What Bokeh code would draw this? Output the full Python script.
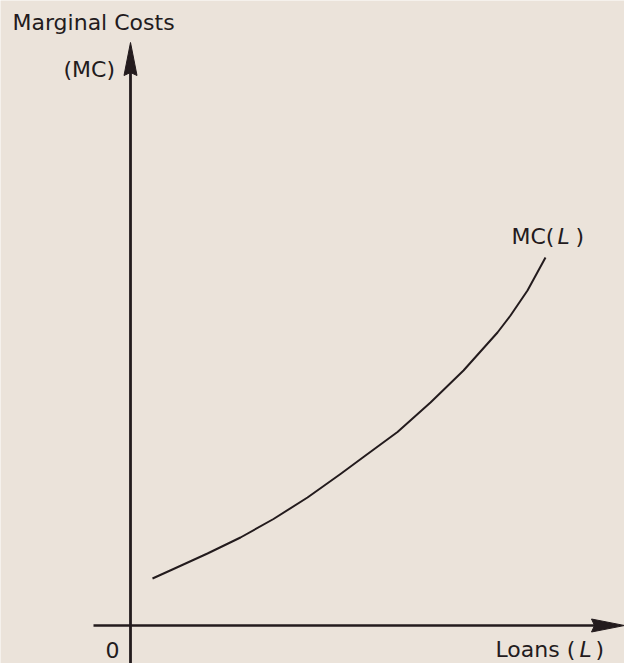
from bokeh.plotting import figure
from bokeh.models import Range1d, Label
from bokeh.embed import file_html
from bokeh.resources import INLINE

# Curve MC(L): loans (L) and marginal costs (MC), arbitrary units
loans = [0.44, 0.86, 1.54, 2.2, 2.86, 3.54, 4.2, 4.66, 5.34, 6.0, 6.66, 7.34, 7.6, 7.94, 8.3]
marginal_costs = [0.94, 1.13, 1.44, 1.76, 2.13, 2.56, 3.03, 3.37, 3.87, 4.46, 5.1, 5.86, 6.2, 6.7, 7.36]

y_title = "Marginal Costs"
y_abbrev = "(MC)"
curve_label = ["MC(", "L", ")"]
x_title = ["Loans (", "L", ")"]
origin_label = "0"

BG = "#ebe3da"
INK = "#231b1d"
FONT = "DejaVu Sans"
FS = "22px"
PX = 50.0  # pixels per unit

p = figure(width=624, height=663, output_backend="svg", toolbar_location=None,
           x_range=Range1d(-2.6, 9.88), y_range=Range1d(-0.76, 12.5),
           x_axis_location=None, y_axis_location=None, min_border=0)
p.grid.visible = False
p.outline_line_color = None
p.background_fill_color = BG
p.border_fill_color = BG

def ux(px):
    return (px - 130) / PX

def uy(py):
    return (625 - py) / PX

# axes
x_end = p.x_range.end
y_top = uy(42)
p.segment(x0=[ux(93)], y0=[0], x1=[x_end - 0.3], y1=[0], line_color=INK, line_width=2.6)
p.segment(x0=[0], y0=[p.y_range.start], x1=[0], y1=[y_top - 0.3], line_color=INK, line_width=2.8)

# arrow heads
hl, hw, notch = 33 / PX, 6.5 / PX, 3 / PX
p.patch(x=[0, -hw, 0, hw], y=[y_top, y_top - hl, y_top - hl + notch, y_top - hl],
        fill_color=INK, line_color=INK, line_width=1)
p.patch(x=[x_end, x_end - hl, x_end - hl + notch, x_end - hl], y=[0, hw, 0, -hw],
        fill_color=INK, line_color=INK, line_width=1)

# curve
p.line(loans, marginal_costs, line_color=INK, line_width=2, line_join="round")

SHIFT = 7  # compensate renderer baseline offset

def lab(px, py, text, italic=False):
    p.add_layout(Label(x=ux(px), y=uy(py - SHIFT), text=text, text_font=FONT, text_font_size=FS,
                       text_color=INK, text_baseline="alphabetic", text_align="left",
                       text_font_style="italic" if italic else "normal"))

lab(12, 29, y_title)
lab(63, 76, y_abbrev)
lab(511, 243, curve_label[0])
lab(557, 243, curve_label[1], True)
lab(575, 243, curve_label[2])
lab(495, 656, x_title[0])
lab(579, 656, x_title[1], True)
lab(595, 656, x_title[2])
lab(105, 656, origin_label)

open("out.html", "w").write(file_html(p, INLINE))
